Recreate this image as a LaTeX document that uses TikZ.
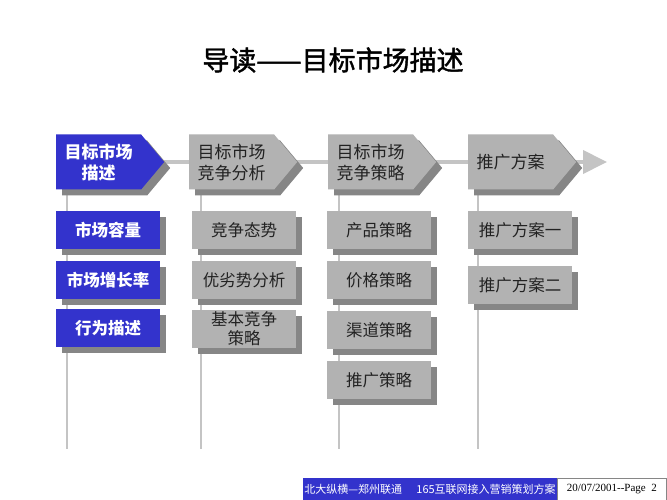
\documentclass[tikz,border=0pt]{standalone}
\usepackage{fontspec}
\newfontfamily\cjk{Noto Sans CJK SC}
\newfontfamily\cjktitle[FakeBold=1.5]{Noto Sans CJK SC}
\newfontfamily\datefont{Liberation Serif}
\usetikzlibrary{shapes.symbols,shadows,arrows.meta,backgrounds}
\definecolor{navyblue}{RGB}{51,51,204}
\definecolor{boxgray}{RGB}{178,178,178}
\definecolor{shadowgray}{RGB}{134,134,134}
\definecolor{linegray}{RGB}{196,196,196}
\definecolor{textgray}{RGB}{34,34,34}
\tikzset{
  shade6/.style={drop shadow={shadow xshift=6pt,shadow yshift=-6pt,fill=shadowgray,opacity=1}},
  chevron/.style={shape=signal,signal to=east,signal pointer angle=100,minimum width=108pt,
    minimum height=55pt,inner sep=0pt,align=center,anchor=west,shade6},
  bluechev/.style={chevron,fill=navyblue,text=white,font=\cjk\bfseries\fontsize{17}{21}\selectfont},
  graychev/.style={chevron,fill=boxgray,text=textgray,font=\cjk\fontsize{17}{21}\selectfont},
  item/.style={rectangle,minimum width=104pt,minimum height=38pt,inner sep=0pt,align=center,shade6},
  blueitem/.style={item,fill=navyblue,text=white,font=\cjk\bfseries\fontsize{16.5}{20}\selectfont},
  grayitem/.style={item,fill=boxgray,text=textgray,font=\cjk\fontsize{16.5}{19}\selectfont},
  flow/.style={line width=4pt,color=linegray},
  stem/.style={line width=2pt,color=linegray}
}
\begin{document}
\begin{tikzpicture}[x=1pt,y=-1pt]
  \useasboundingbox (0,0) rectangle (667,500);
  \node(title) at (333,60) {\cjktitle\fontsize{27}{31}\selectfont 导读——目标市场描述};

  % main steps
  \node[bluechev](c1) at (56,162) {目标市场\\描述};
  \node[graychev](c2) at (189,162) {目标市场\\竞争分析};
  \node[graychev](c3) at (328,162) {目标市场\\竞争策略};
  \node[graychev](c4) at (468,162) {推广方案};

  % column 1
  \node[blueitem](m1) at (108,230) {市场容量};
  \node[blueitem](m2) at (108,280) {市场增长率};
  \node[blueitem](m3) at (108,328) {行为描述};
  % column 2
  \node[grayitem](a1) at (244,230) {竞争态势};
  \node[grayitem](a2) at (244,280) {优劣势分析};
  \node[grayitem](a3) at (244,329) {基本竞争\\策略};
  % column 3
  \node[grayitem](p1) at (379,230) {产品策略};
  \node[grayitem](p2) at (379,280) {价格策略};
  \node[grayitem](p3) at (379,330) {渠道策略};
  \node[grayitem](p4) at (379,380) {推广策略};
  % column 4
  \node[grayitem](t1) at (520,230) {推广方案一};
  \node[grayitem](t2) at (520,285) {推广方案二};

  \coordinate(tip) at (607,162);
  \coordinate(s1) at (67,449);
  \coordinate(s2) at (201,449);
  \coordinate(s3) at (339,449);
  \coordinate(s4) at (478,449);
  \begin{scope}[on background layer]
    \fill[white] (0,0) rectangle (667,500);
    \draw[flow,-{Triangle[length=24pt,width=23pt]}] (c1.center) -- (tip);
    \draw[stem] (c1.south -| s1) -- (s1);
    \draw[stem] (c2.south -| s2) -- (s2);
    \draw[stem] (c3.south -| s3) -- (s3);
    \draw[stem] (c4.south -| s4) -- (s4);
  \end{scope}

  % footer
  \node(foot)[fill=navyblue,text=white,minimum width=254pt,minimum height=22pt,inner sep=0pt,
    font=\cjk\fontsize{11}{13}\selectfont] at (430,489) {北大纵横—郑州联通\hspace{1.3em}165互联网接入营销策划方案};
  \node(date)[draw=shadowgray,fill=white,minimum width=109pt,minimum height=22pt,inner sep=0pt,
    font=\datefont\fontsize{11}{13}\selectfont,anchor=west] at (foot.east) {20/07/2001--Page\ \ 2};
\end{tikzpicture}
\end{document}
